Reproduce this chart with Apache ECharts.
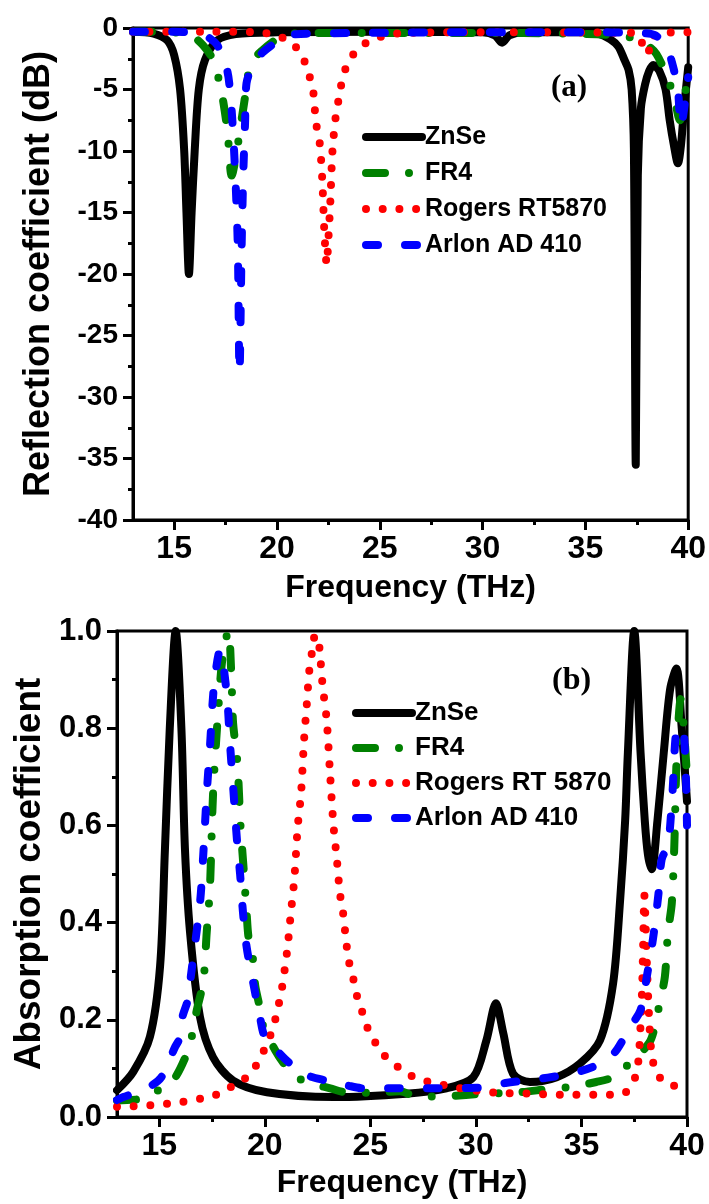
<!DOCTYPE html>
<html><head><meta charset="utf-8">
<script src="https://cdn.jsdelivr.net/npm/echarts@6/dist/echarts.min.js"></script>
<style>html,body{margin:0;padding:0;background:#fff}#c{width:709px;height:1204px}</style>
</head><body><div id="c"></div>
<script>
// ---------- tick values ----------
const xTicks = [15, 20, 25, 30, 35, 40];
const xMinorTicks = [17.5, 22.5, 27.5, 32.5, 37.5];

// ---------- panel (a): reflection coefficient (dB) ----------
const znseRefF = [13, 14, 14.66, 15.0, 15.29, 15.49, 15.6, 15.72, 15.85, 16.0, 16.2, 16.5, 17.1, 18, 20, 25, 30, 30.6, 30.95, 31.3, 32, 35, 35.63, 36.2, 36.6, 36.9, 37.1, 37.25, 37.36, 37.45, 37.55, 37.7, 37.9, 38.1, 38.3, 38.6, 38.9, 39.1, 39.3, 39.5, 39.65, 39.8, 40];
const znseRefV = [-0.3, -0.45, -1.0, -2.2, -5, -10, -15, -20, -15, -10, -5, -2.6, -1.0, -0.5, -0.35, -0.3, -0.35, -0.6, -1.2, -0.6, -0.35, -0.35, -0.45, -0.9, -1.5, -2.6, -3.4, -5, -10, -35.5, -12, -6.5, -4.6, -3.5, -3.0, -3.5, -5, -7.5, -9.5, -11, -9.5, -6.5, -3.2];

const fr4RefF = [13, 15, 15.9, 16.4, 16.9, 17.2, 17.4, 17.6, 17.8, 18.05, 18.2, 18.44, 18.55, 18.8, 19.3, 19.9, 20.5, 22, 26, 30, 34, 36.45, 37.4, 38.0, 38.45, 38.9, 39.3, 39.6, 39.8, 40];
const fr4RefV = [-0.3, -0.35, -0.7, -1.4, -2.6, -4.4, -6.1, -8.5, -12, -10, -8.3, -5.7, -4.2, -2.7, -1.8, -1.0, -0.5, -0.4, -0.4, -0.4, -0.45, -0.6, -0.85, -1.4, -2.1, -3.7, -5.5, -7.5, -6, -3.2];

const rogersRefF = [13, 17, 19.2, 19.9, 20.64, 21.2, 21.5, 21.75, 21.9, 22.07, 22.2, 22.31, 22.42, 22.5, 22.6, 22.7, 22.88, 23.04, 23.2, 23.5, 23.9, 24.55, 25.35, 26.1, 30, 37.4, 37.9, 38.05, 38.2, 38.8, 40];
const rogersRefV = [-0.3, -0.3, -0.35, -0.6, -1.1, -2.2, -3.5, -5, -7.7, -9.2, -12.2, -16.7, -19.2, -17.2, -14, -10, -6.9, -5.5, -4.0, -2.7, -1.8, -1.0, -0.6, -0.4, -0.35, -0.4, -1.8, -2.1, -0.8, -0.4, -0.35];

const arlonRefF = [13, 15, 16.0, 16.5, 17.1, 17.57, 17.7, 17.85, 18.0, 18.1, 18.18, 18.28, 18.36, 18.45, 18.52, 18.85, 19.3, 20.4, 20.9, 24, 30, 35, 37.5, 38.4, 39.0, 39.35, 39.5, 39.65, 39.85, 40];
const arlonRefV = [-0.3, -0.3, -0.4, -0.6, -1.4, -3.4, -4.8, -8, -13, -18, -28, -18, -12, -7.7, -4.5, -3, -2, -0.7, -0.5, -0.4, -0.35, -0.35, -0.4, -0.6, -1.8, -3.7, -5, -8, -6, -4];

// ---------- panel (b): absorption coefficient ----------
const znseAbsF = [13, 13.77, 14.56, 15.04, 15.27, 15.5, 15.78, 16.05, 16.22, 16.46, 16.93, 17.55, 18.5, 20.1, 23.25, 26.7, 28.6, 29.88, 30.5, 30.95, 31.3, 31.76, 32.56, 33.83, 34.93, 35.88, 36.5, 36.83, 37.07, 37.2, 37.5, 37.8, 38.0, 38.15, 38.33, 38.6, 38.9, 39.2, 39.5, 39.75, 40];
const znseAbsV = [0.055, 0.093, 0.165, 0.31, 0.55, 0.8, 1.0, 0.8, 0.55, 0.38, 0.206, 0.123, 0.075, 0.051, 0.041, 0.048, 0.059, 0.082, 0.158, 0.234, 0.172, 0.089, 0.072, 0.082, 0.11, 0.158, 0.275, 0.445, 0.61, 0.75, 1.0, 0.75, 0.61, 0.54, 0.51, 0.61, 0.75, 0.88, 0.923, 0.8, 0.65];

const fr4AbsF = [13, 14.25, 14.96, 15.66, 16.37, 16.6, 16.78, 17.09, 17.25, 17.4, 17.55, 17.8, 18.0, 18.27, 18.45, 18.5, 18.7, 18.85, 19.0, 19.14, 19.23, 19.4, 19.55, 19.74, 19.9, 20.5, 21.04, 21.8, 23.1, 24, 25, 26.4, 27.2, 28.7, 30.35, 31.9, 33.5, 34.5, 35.7, 36.5, 37.1, 38.2, 38.5, 38.7, 38.95, 39.1, 39.28, 39.4, 39.48, 39.55, 39.7, 39.85, 40];
const fr4AbsV = [0.034, 0.038, 0.055, 0.075, 0.137, 0.178, 0.22, 0.28, 0.38, 0.47, 0.665, 0.84, 0.946, 1.0, 0.87, 0.81, 0.73, 0.6, 0.51, 0.42, 0.37, 0.34, 0.27, 0.23, 0.19, 0.137, 0.103, 0.075, 0.059, 0.05, 0.05, 0.053, 0.042, 0.043, 0.048, 0.05, 0.058, 0.062, 0.072, 0.082, 0.103, 0.152, 0.19, 0.234, 0.288, 0.38, 0.44, 0.56, 0.7, 0.78, 0.86, 0.8, 0.7];

const rogersAbsF = [13, 14.56, 16.06, 17.64, 18.27, 18.95, 19.54, 19.96, 20.3, 20.53, 20.7, 20.85, 21.07, 21.23, 21.4, 21.56, 21.72, 21.86, 21.99, 22.11, 22.25, 22.38, 22.5, 22.6, 22.74, 22.93, 23.09, 23.25, 23.41, 23.56, 23.7, 23.88, 24.0, 24.2, 24.38, 24.64, 24.9, 25.27, 25.74, 26.4, 27.07, 27.8, 28.6, 29.4, 30.2, 31.0, 32.5, 34.0, 36.4, 37.1, 37.55, 37.7, 37.8, 37.87, 37.93, 37.98, 38.05, 38.12, 38.2, 38.3, 38.5, 38.96, 39.7, 40];
const rogersAbsV = [0.021, 0.024, 0.031, 0.045, 0.059, 0.075, 0.103, 0.137, 0.172, 0.206, 0.24, 0.275, 0.346, 0.418, 0.49, 0.597, 0.667, 0.775, 0.849, 0.919, 0.96, 0.99, 0.99, 0.96, 0.888, 0.818, 0.708, 0.602, 0.532, 0.46, 0.423, 0.352, 0.317, 0.283, 0.247, 0.213, 0.18, 0.151, 0.123, 0.1, 0.082, 0.072, 0.065, 0.058, 0.053, 0.05, 0.048, 0.046, 0.046, 0.051, 0.082, 0.117, 0.189, 0.26, 0.367, 0.456, 0.384, 0.29, 0.21, 0.14, 0.097, 0.07, 0.062, 0.06];

const arlonAbsF = [13, 13.3, 14.4, 15.1, 15.75, 16.0, 16.1, 16.4, 16.5, 16.93, 17.1, 17.25, 17.4, 17.6, 17.88, 18.2, 18.35, 18.5, 18.7, 18.83, 18.97, 19.14, 19.4, 19.55, 19.77, 20.0, 20.57, 21.2, 22.0, 22.9, 23.9, 24.7, 26, 28, 30, 31.4, 33.4, 35.0, 36.2, 36.7, 37.3, 37.8, 38.1, 38.4, 38.65, 38.8, 39.1, 39.3, 39.55, 39.8, 40];
const arlonAbsV = [0.035, 0.041, 0.059, 0.082, 0.144, 0.165, 0.206, 0.247, 0.29, 0.44, 0.55, 0.665, 0.76, 0.89, 0.96, 0.87, 0.77, 0.68, 0.56, 0.5, 0.42, 0.35, 0.288, 0.254, 0.206, 0.165, 0.137, 0.11, 0.086, 0.075, 0.065, 0.059, 0.059, 0.059, 0.06, 0.07, 0.081, 0.095, 0.117, 0.14, 0.185, 0.22, 0.29, 0.37, 0.46, 0.53, 0.56, 0.66, 0.8, 0.8, 0.6];

const namesA = ['ZnSe', 'FR4', 'Rogers RT5870', 'Arlon AD 410'];
const namesB = ['ZnSe', 'FR4', 'Rogers RT 5870', 'Arlon AD 410'];

// ---------- styling ----------
const FONT = 'Liberation Sans, Arial, sans-serif';
const LINE_STYLES = [
  { color: '#000000', type: 'solid' },
  { color: '#008000', type: [19, 24, 0, 24] },
  { color: '#ff0000', type: [0, 16.7] },
  { color: '#0000ff', type: [12, 27] }
];

function pairs(f, v) { return f.map((x, i) => [x, v[i]]); }

function mkSeries(name, f, v, k, xi, yi) {
  const s = LINE_STYLES[k];
  return {
    type: 'line', name: name, data: pairs(f, v),
    xAxisIndex: xi, yAxisIndex: yi,
    symbol: 'none', showSymbol: false, smooth: 0.3, clip: false,
    lineStyle: { color: s.color, width: 8, type: s.type, cap: 'round', join: 'round' },
    itemStyle: { color: s.color },
    emphasis: { disabled: true }, silent: true, animation: false, z: 2 + k
  };
}

const boldText = (size) => ({ fontFamily: FONT, fontWeight: 'bold', fontSize: size, color: '#000' });

function mainX(gridIndex, gap) {
  return {
    gridIndex: gridIndex, type: 'value', min: 13, max: 40, position: 'bottom',
    axisLine: { show: true, onZero: false, lineStyle: { color: '#000', width: 3 } },
    axisTick: { show: true, customValues: xTicks, length: 10, lineStyle: { color: '#000', width: 3 } },
    axisLabel: Object.assign({ customValues: xTicks, margin: 13 }, boldText(32)),
    splitLine: { show: false },
    name: 'Frequency (THz)', nameLocation: 'middle', nameGap: gap,
    nameTextStyle: boldText(32)
  };
}
function minorX(gridIndex) {
  return {
    gridIndex: gridIndex, type: 'value', min: 13, max: 40, position: 'bottom',
    axisLine: { show: false, onZero: false },
    axisTick: { show: true, customValues: xMinorTicks, length: 5, lineStyle: { color: '#000', width: 3 } },
    axisLabel: { show: false }, splitLine: { show: false }
  };
}

function mkLegend(names, left, top, gap, size) {
  return {
    data: names, orient: 'vertical', left: left, top: top, padding: 0,
    itemWidth: 56, itemHeight: 14, itemGap: gap, selectedMode: false,
    itemStyle: { opacity: 0 },
    lineStyle: { width: 'inherit', type: 'inherit', cap: 'round', join: 'round' },
    textStyle: Object.assign({ lineHeight: 26, padding: [0, 0, 0, -2] }, boldText(size))
  };
}

const chart = echarts.init(document.getElementById('c'), null, { renderer: 'canvas' });
chart.setOption({
  animation: false,
  backgroundColor: '#fff',
  title: [
    { text: '(a)', left: 551, top: 72, padding: 0,
      textStyle: { fontFamily: 'Liberation Serif, Times New Roman, serif', fontWeight: 'bold', fontSize: 31, color: '#000' } },
    { text: '(b)', left: 552, top: 665, padding: 0,
      textStyle: { fontFamily: 'Liberation Serif, Times New Roman, serif', fontWeight: 'bold', fontSize: 32, color: '#000' } }
  ],
  grid: [
    { left: 133, right: 20, top: 28, height: 492, show: true, borderColor: '#000', borderWidth: 3, backgroundColor: 'transparent' },
    { left: 117, right: 22, top: 631, height: 486, show: true, borderColor: '#000', borderWidth: 3, backgroundColor: 'transparent' }
  ],
  legend: [
    mkLegend(namesA, 362, 124, 10, 25),
    mkLegend(namesB, 352, 700, 9, 26)
  ],
  xAxis: [mainX(0, 52), minorX(0), mainX(1, 50), minorX(1)],
  yAxis: [
    { gridIndex: 0, type: 'value', min: -40, max: 0, interval: 5,
      axisLine: { show: true, lineStyle: { color: '#000', width: 3 } },
      axisTick: { show: true, length: 10, lineStyle: { color: '#000', width: 3 } },
      minorTick: { show: true, splitNumber: 2, length: 5, lineStyle: { color: '#000', width: 3 } },
      axisLabel: Object.assign({ margin: 15 }, boldText(28)),
      splitLine: { show: false },
      name: 'Reflection coefficient (dB)', nameLocation: 'middle', nameGap: 76,
      nameTextStyle: boldText(36) },
    { gridIndex: 1, type: 'value', min: 0, max: 1, interval: 0.2,
      axisLine: { show: true, lineStyle: { color: '#000', width: 3 } },
      axisTick: { show: true, length: 10, lineStyle: { color: '#000', width: 3 } },
      minorTick: { show: true, splitNumber: 2, length: 5, lineStyle: { color: '#000', width: 3 } },
      axisLabel: Object.assign({ margin: 15, formatter: (v) => v.toFixed(1) }, boldText(31)),
      splitLine: { show: false },
      name: 'Absorption coefficient', nameLocation: 'middle', nameGap: 64,
      nameTextStyle: boldText(37) }
  ],
  series: [
    mkSeries(namesA[0], znseRefF, znseRefV, 0, 0, 0),
    mkSeries(namesA[1], fr4RefF, fr4RefV, 1, 0, 0),
    mkSeries(namesA[2], rogersRefF, rogersRefV, 2, 0, 0),
    mkSeries(namesA[3], arlonRefF, arlonRefV, 3, 0, 0),
    mkSeries(namesB[0], znseAbsF, znseAbsV, 0, 2, 1),
    mkSeries(namesB[1], fr4AbsF, fr4AbsV, 1, 2, 1),
    mkSeries(namesB[2], rogersAbsF, rogersAbsV, 2, 2, 1),
    mkSeries(namesB[3], arlonAbsF, arlonAbsV, 3, 2, 1)
  ]
});
</script>
</body></html>
